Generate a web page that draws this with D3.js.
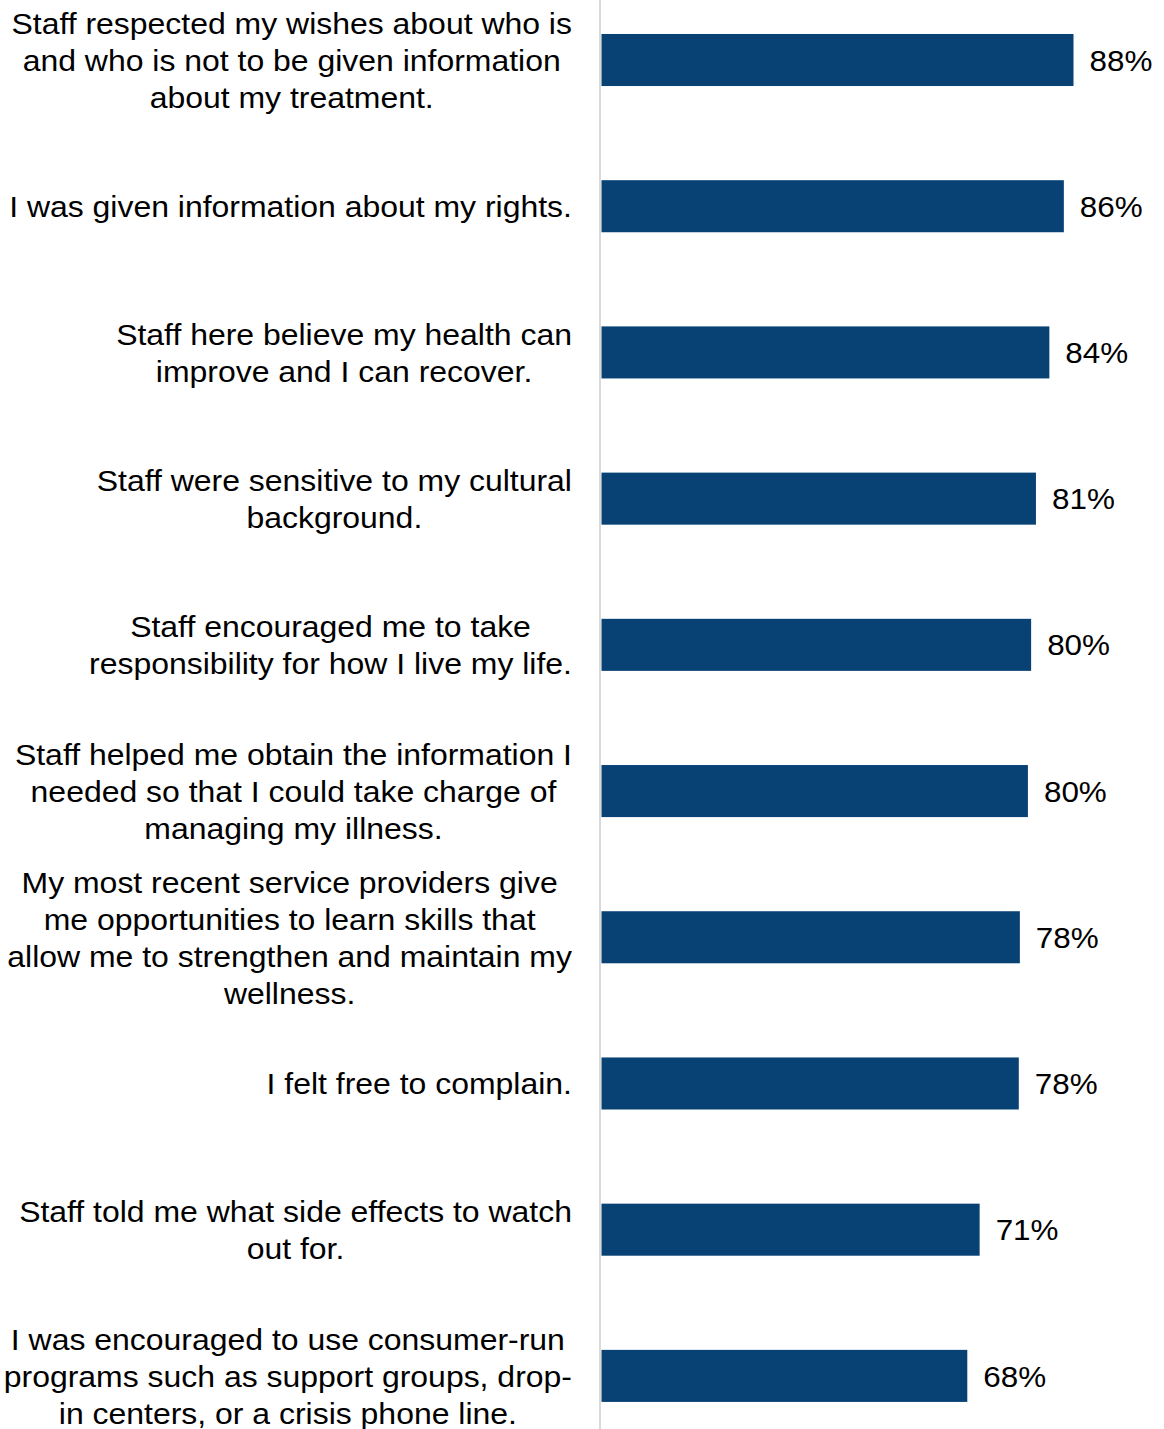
<!DOCTYPE html>
<html>
<head>
<meta charset="utf-8">
<script src="https://cdn.jsdelivr.net/npm/d3@7"></script>
<style>
  html, body { margin: 0; padding: 0; background: #fff; }
  svg { display: block; }
</style>
</head>
<body>
<svg id="chart" width="1164" height="1429"></svg>
<script>
const categories = [
  ["Staff respected my wishes about who is", "and who is not to be given information", "about my treatment."],
  ["I was given information about my rights."],
  ["Staff here believe my health can", "improve and I can recover."],
  ["Staff were sensitive to my cultural", "background."],
  ["Staff encouraged me to take", "responsibility for how I live my life."],
  ["Staff helped me obtain the information I", "needed so that I could take charge of", "managing my illness."],
  ["My most recent service providers give", "me opportunities to learn skills that", "allow me to strengthen and maintain my", "wellness."],
  ["I felt free to complain."],
  ["Staff told me what side effects to watch", "out for."],
  ["I was encouraged to use consumer-run", "programs such as support groups, drop-", "in centers, or a crisis phone line."]
];
const values = [88.0, 86.2, 83.5, 81.0, 80.1, 79.5, 78.0, 77.8, 70.5, 68.2];
const valueLabels = ["88%", "86%", "84%", "81%", "80%", "80%", "78%", "78%", "71%", "68%"];

const svg = d3.select("#chart");
const x0 = 601.5;
const x = d3.scaleLinear().domain([0, 88]).range([x0, 1073.5]);
const idx = d3.range(categories.length);
const y = d3.scaleBand().domain(idx).range([-13.1, 1449]).paddingInner(0.644).paddingOuter(0.322);

const font = "'Liberation Sans', Arial, Helvetica, sans-serif";
const sx = 1.065;

// bars
svg.append("g").selectAll("rect").data(idx).join("rect")
  .attr("x", x(0))
  .attr("y", i => y(i))
  .attr("width", i => x(values[i]) - x(0))
  .attr("height", y.bandwidth())
  .attr("fill", "#084275");

// axis line
svg.append("line")
  .attr("x1", 600).attr("x2", 600)
  .attr("y1", 0).attr("y2", 1429)
  .attr("stroke", "#d9d9d9").attr("stroke-width", 2);

// value labels
svg.append("g").selectAll("text").data(idx).join("text")
  .attr("transform", i => `translate(${x(values[i]) + 16},${y(i) + y.bandwidth() / 2}) scale(${sx},1)`)
  .attr("dy", "0.36em")
  .attr("font-family", font)
  .attr("font-size", 29.5)
  .attr("fill", "#000")
  .text(i => valueLabels[i]);

// category labels: centered block, right aligned at 572
const lineH = 37;
const labelRight = 572;
const lg = svg.append("g");
idx.forEach(i => {
  const lines = categories[i];
  const cy = y(i) + y.bandwidth() / 2;
  const g = lg.append("g");
  const texts = lines.map((ln, k) => g.append("text")
    .datum(cy + (k - (lines.length - 1) / 2) * lineH)
    .attr("dy", "0.36em")
    .attr("font-family", font)
    .attr("font-size", 30)
    .attr("fill", "#000")
    .attr("text-anchor", "middle")
    .text(ln));
  const maxW = d3.max(texts, t => t.node().getComputedTextLength()) * sx;
  texts.forEach(t => t.attr("transform", d => `translate(${labelRight - maxW / 2},${d}) scale(${sx},1)`));
});
</script>
</body>
</html>
